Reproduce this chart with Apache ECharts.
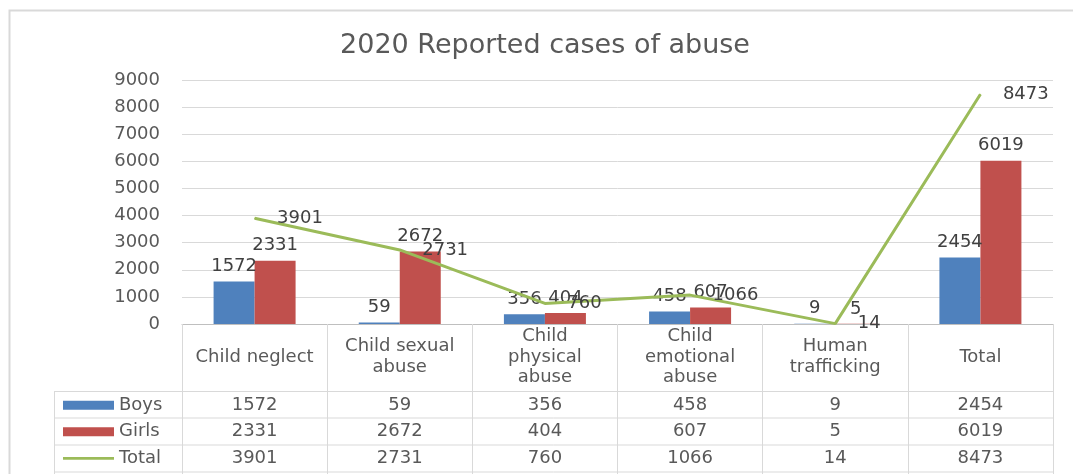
<!DOCTYPE html>
<html>
<head>
<meta charset="utf-8">
<script src="https://cdn.jsdelivr.net/npm/echarts@6/dist/echarts.min.js"></script>
<style>
  html, body { margin: 0; padding: 0; background: #ffffff; }
  #chart { width: 1073px; height: 474px; }
</style>
</head>
<body>
<div id="chart"></div>
<script>
// Reported cases of abuse in 2020, by category and sex
const categories = ['Child neglect', 'Child sexual abuse', 'Child physical abuse', 'Child emotional abuse', 'Human trafficking', 'Total'];
const categoryLines = ['Child neglect', 'Child sexual\nabuse', 'Child\nphysical\nabuse', 'Child\nemotional\nabuse', 'Human\ntrafficking', 'Total'];
const boys  = [1572, 59, 356, 458, 9, 2454];
const girls = [2331, 2672, 404, 607, 5, 6019];
const total = [3901, 2731, 760, 1066, 14, 8473];
const seriesNames = ['Boys', 'Girls', 'Total'];

const FONT = 'DejaVu Sans';
const FS = 18;
const TEXT = '#595959';
const LABEL = '#404040';
const GRID = '#D9D9D9';
const BLUE = '#4F81BD', RED = '#C0504D', GREEN = '#9BBB59';

// data-table geometry (rows under the plot)
const plotBottom = 324;
const tableLeft = 54;
const rowLines = [391.5, 418, 445, 472];
const rowCenters = [405, 431.5, 458];

const chart = echarts.init(document.getElementById('chart'), null, { renderer: 'canvas' });

chart.setOption({
  animation: false,
  backgroundColor: '#ffffff',
  title: {
    text: '2020 Reported cases of abuse',
    left: 540, top: 27, textAlign: 'center',
    textStyle: { fontFamily: FONT, fontSize: 27, fontWeight: 'normal', color: TEXT }
  },
  legend: {
    orient: 'vertical', left: 63, top: 392, padding: 0, itemGap: 0,
    itemWidth: 51, itemHeight: 9, selectedMode: false,
    textStyle: { fontFamily: FONT, fontSize: FS, color: TEXT, lineHeight: 26.5 },
    data: [
      { name: 'Boys', icon: 'rect' },
      { name: 'Girls', icon: 'rect' },
      { name: 'Total', icon: 'path://M0,0M0,9M0,3.3h51v2.6h-51z' }
    ]
  },
  grid: { left: 182, right: 20, top: 80, bottom: 474 - plotBottom, containLabel: false },
  xAxis: {
    type: 'category', data: categories, boundaryGap: true,
    axisLine: { show: true, lineStyle: { color: '#BFBFBF', width: 1 } },
    axisTick: { show: true, length: 150, lineStyle: { color: GRID, width: 1 } },
    axisLabel: {
      interval: 0, margin: 33, verticalAlign: 'middle', align: 'center',
      fontFamily: FONT, fontSize: FS, color: TEXT, lineHeight: 20.5,
      formatter: (v) => categoryLines[categories.indexOf(v)]
    }
  },
  yAxis: {
    type: 'value', min: 0, max: 9000, interval: 1000,
    axisLine: { show: false }, axisTick: { show: false },
    axisLabel: {
      margin: 22, fontFamily: FONT, fontSize: FS, color: TEXT,
      formatter: (v) => String(v)
    },
    splitLine: { lineStyle: { color: GRID, width: 1 } }
  },
  series: [
    {
      name: seriesNames[0], type: 'bar', data: boys, barWidth: 41, barGap: '0%',
      itemStyle: { color: BLUE },
      label: { show: true, position: 'top', distance: 6, fontFamily: FONT, fontSize: FS, color: LABEL }
    },
    {
      name: seriesNames[1], type: 'bar', data: girls, barWidth: 41, barGap: '0%',
      itemStyle: { color: RED },
      label: { show: true, position: 'top', distance: 6, fontFamily: FONT, fontSize: FS, color: LABEL }
    },
    {
      name: seriesNames[2], type: 'line', data: total,
      symbol: 'circle', symbolSize: 1, showSymbol: true,
      lineStyle: { color: GREEN, width: 3 }, itemStyle: { color: GREEN },
      label: { show: true, position: 'right', distance: 22, fontFamily: FONT, fontSize: FS, color: LABEL }
    }
  ]
});

// Frame, table grid lines and table cell values
const graphics = [];
graphics.push({
  type: 'rect', silent: true, z: -1,
  shape: { x: 9.5, y: 10.5, width: 1200, height: 600 },
  style: { fill: 'none', stroke: '#D9D9D9', lineWidth: 2 }
});
rowLines.forEach((y) => {
  graphics.push({
    type: 'line', silent: true,
    shape: { x1: tableLeft, y1: y, x2: 1053, y2: y },
    style: { stroke: GRID, lineWidth: 1 }
  });
});
graphics.push({
  type: 'line', silent: true,
  shape: { x1: tableLeft + 0.5, y1: rowLines[0], x2: tableLeft + 0.5, y2: 474 },
  style: { stroke: GRID, lineWidth: 1 }
});
[boys, girls, total].forEach((row, r) => {
  row.forEach((v, i) => {
    const x = chart.convertToPixel({ xAxisIndex: 0 }, categories[i]);
    graphics.push({
      type: 'text', silent: true, x: x, y: rowCenters[r],
      style: {
        text: String(v), fontFamily: FONT, fontSize: FS, fill: TEXT,
        align: 'center', verticalAlign: 'middle'
      }
    });
  });
});
chart.setOption({ graphic: graphics });
</script>
</body>
</html>
